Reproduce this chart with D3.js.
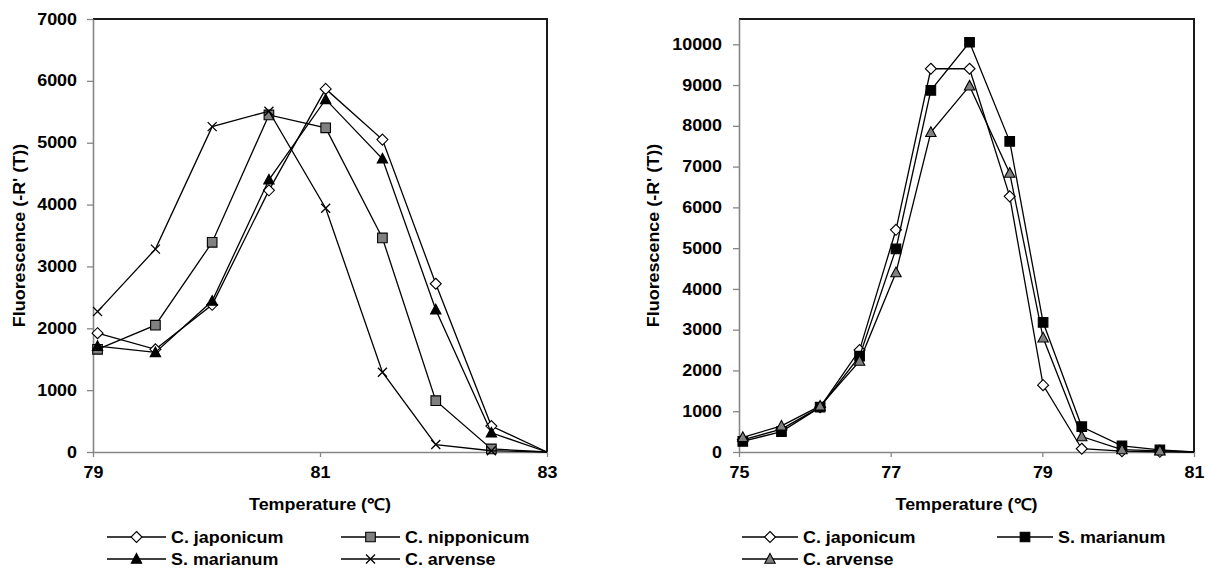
<!DOCTYPE html>
<html>
<head>
<meta charset="utf-8">
<script src="https://cdn.jsdelivr.net/npm/d3@7"></script>
<style>
  body { margin: 0; background: #fff; }
  svg text { font-family: "Liberation Sans", Arial, sans-serif; font-weight: bold; fill: #000; }
</style>
</head>
<body>
<svg id="chart" width="1212" height="570"></svg>
<script>
// melt curves
var leftTemps = [79.04, 79.55, 80.05, 80.55, 81.05, 81.55, 82.02, 82.51, 83.0]
var leftJaponicum = [1920, 1660, 2380, 4230, 5870, 5050, 2720, 420, 0]
var leftNipponicum = [1660, 2050, 3390, 5450, 5240, 3460, 830, 50, 0]
var leftMarianum = [1710, 1610, 2440, 4400, 5700, 4740, 2300, 310, 0]
var leftArvense = [2270, 3280, 5260, 5510, 3940, 1290, 120, 20, 0]

var rightTemps = [75.05, 75.56, 76.07, 76.59, 77.07, 77.53, 78.04, 78.57, 79.01, 79.52, 80.05, 80.55, 81.0]
var rightJaponicum = [300, 560, 1100, 2500, 5450, 9400, 9400, 6270, 1640, 80, 20, 5, 0]
var rightMarianum = [260, 500, 1100, 2350, 4980, 8870, 10050, 7620, 3180, 620, 150, 50, 0]
var rightArvense = [360, 640, 1130, 2230, 4400, 7840, 8980, 6840, 2800, 380, 60, 30, 0]

var leftXTicks = [79, 81, 83]
var leftYTicks = [0, 1000, 2000, 3000, 4000, 5000, 6000, 7000]
var rightXTicks = [75, 77, 79, 81]
var rightYTicks = [0, 1000, 2000, 3000, 4000, 5000, 6000, 7000, 8000, 9000, 10000]

var yTitle = "Fluorescence (-R' (T))"
var xTitle = "Temperature (\u2103)"

var svg = d3.select("#chart")
var fontSize = "16px"
var stretch = 1.12   // the figure's lettering is wider than Arial
var axisGrey = "#868686"

// marker shapes, centred on 0,0
function markerPath(kind) {
	if (kind == "diamond") return "M0,-5.5L5.5,0L0,5.5L-5.5,0Z"
	if (kind == "square") return "M-4.8,-4.8H4.8V4.8H-4.8Z"
	if (kind == "triangle") return "M0,-5.5L5.2,4.2H-5.2Z"
	if (kind == "cross") return "M-4.5,-4.5L4.5,4.5M4.5,-4.5L-4.5,4.5"
}

function drawMarker(g, kind, fill) {
	g.append("path")
		.attr("d", markerPath(kind))
		.attr("fill", kind == "cross" ? "none" : fill)
		.attr("stroke", "#000")
		.attr("stroke-width", kind == "cross" ? 1.3 : 1.1)
}

function makeChart(cfg) {

	var x = d3.scaleLinear().domain(cfg.xDomain).range([cfg.left, cfg.right])
	var y = d3.scaleLinear().domain(cfg.yDomain).range([cfg.bottom, cfg.top])

	// top and right frame
	svg.append("path")
		.attr("d", "M" + cfg.left + "," + cfg.top + "H" + cfg.right + "V" + cfg.bottom)
		.attr("fill", "none")
		.attr("stroke", "#1a1a1a")
		.attr("stroke-width", 2)

	var yAxis = svg.append("g")
		.attr("transform", "translate(" + cfg.left + ",0)")
		.call(d3.axisLeft(y).tickValues(cfg.yTicks).tickFormat(d3.format("d"))
			.tickSize(6).tickSizeOuter(0).tickPadding(10))

	var xAxis = svg.append("g")
		.attr("transform", "translate(0," + cfg.bottom + ")")
		.call(d3.axisBottom(x).tickValues(cfg.xTicks).tickFormat(d3.format("d"))
			.tickSize(5).tickSizeOuter(0).tickPadding(11))

	;[yAxis, xAxis].forEach(function(a) {
		a.select(".domain").attr("stroke", axisGrey).attr("stroke-width", 1.6)
		a.selectAll(".tick line").attr("stroke", axisGrey).attr("stroke-width", 1.3)
		a.selectAll(".tick text").style("font-size", fontSize)
	})

	yAxis.selectAll(".tick text")
		.attr("transform", "translate(" + (-cfg.yLabelGap) + ",0) scale(" + stretch + ",1)")
		.attr("x", 0)
	xAxis.selectAll(".tick text")
		.attr("transform", "scale(" + stretch + ",1)")
		.attr("x", 0)
		.attr("y", 15)

	// axis titles
	svg.append("text")
		.attr("transform", "translate(" + cfg.yTitleX + "," + ((cfg.top + cfg.bottom) / 2) + ") rotate(-90) scale(" + stretch + ",1)")
		.attr("text-anchor", "middle")
		.style("font-size", fontSize)
		.text(yTitle)

	svg.append("text")
		.attr("transform", "translate(" + ((cfg.left + cfg.right) / 2) + ",510) scale(" + stretch + ",1)")
		.attr("text-anchor", "middle")
		.style("font-size", fontSize)
		.text(xTitle)

	var line = d3.line()
		.x(function(d) { return x(d[0]) })
		.y(function(d) { return y(d[1]) })

	cfg.series.forEach(function(s) {
		var pts = cfg.temps.map(function(t, i) { return [t, s.values[i]] })

		svg.append("path")
			.attr("d", line(pts))
			.attr("fill", "none")
			.attr("stroke", "#000")
			.attr("stroke-width", 1.3)

		// last point sits on the axis corner and has no marker
		pts.slice(0, pts.length - 1).forEach(function(p) {
			var g = svg.append("g").attr("transform", "translate(" + x(p[0]) + "," + y(p[1]) + ")")
			drawMarker(g, s.marker, s.fill)
		})
	})

	// legend
	cfg.series.forEach(function(s, i) {
		var col = i % 2
		var row = Math.floor(i / 2)
		var lx = cfg.legendCols[col]
		var ly = cfg.legendRows[row]
		svg.append("line")
			.attr("x1", lx).attr("x2", lx + cfg.legendLine)
			.attr("y1", ly).attr("y2", ly)
			.attr("stroke", "#000")
			.attr("stroke-width", 1.5)
		var g = svg.append("g").attr("transform", "translate(" + (lx + cfg.legendLine / 2) + "," + ly + ")")
		drawMarker(g, s.marker, s.fill)
		svg.append("text")
			.attr("transform", "translate(" + (lx + cfg.legendLine + 5) + "," + (ly + 6) + ") scale(" + stretch + ",1)")
			.style("font-size", fontSize)
			.text(s.name)
	})
}

makeChart({
	left: 93, right: 547, top: 19, bottom: 452,
	xDomain: [79, 83], yDomain: [0, 7000],
	xTicks: leftXTicks, yTicks: leftYTicks,
	yLabelGap: 16, yTitleX: 25,
	temps: leftTemps,
	series: [
		{ name: "C. japonicum", values: leftJaponicum, marker: "diamond", fill: "#fff" },
		{ name: "C. nipponicum", values: leftNipponicum, marker: "square", fill: "#808080" },
		{ name: "S. marianum", values: leftMarianum, marker: "triangle", fill: "#000" },
		{ name: "C. arvense", values: leftArvense, marker: "cross", fill: "none" }
	],
	legendCols: [107, 341], legendRows: [537, 559], legendLine: 59
})

makeChart({
	left: 739, right: 1194, top: 19, bottom: 452,
	xDomain: [75, 81], yDomain: [0, 10620],
	xTicks: rightXTicks, yTicks: rightYTicks,
	yLabelGap: 17, yTitleX: 659,
	temps: rightTemps,
	series: [
		{ name: "C. japonicum", values: rightJaponicum, marker: "diamond", fill: "#fff" },
		{ name: "S. marianum", values: rightMarianum, marker: "square", fill: "#000" },
		{ name: "C. arvense", values: rightArvense, marker: "triangle", fill: "#808080" }
	],
	legendCols: [742, 997], legendRows: [537, 559], legendLine: 56
})
</script>
</body>
</html>
